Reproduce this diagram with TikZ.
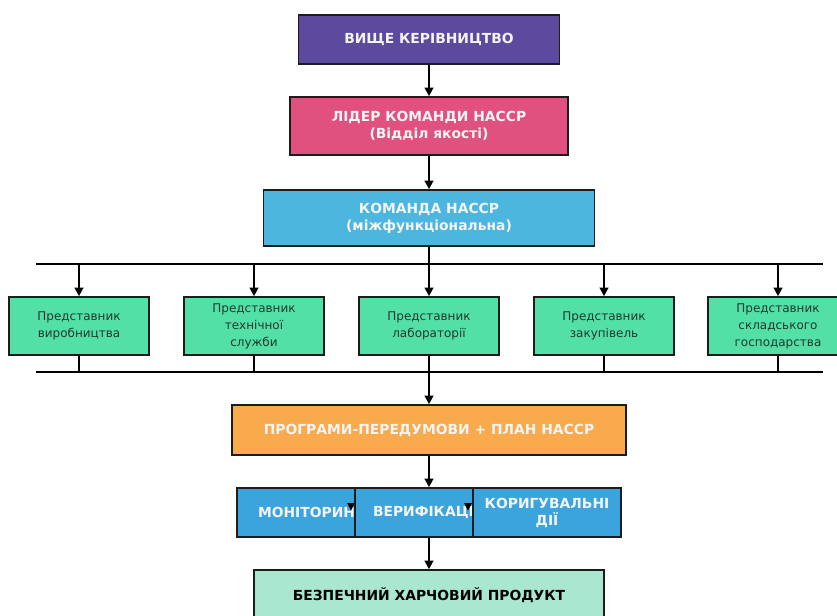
\documentclass[tikz,border=0pt]{standalone}
\usepackage{fontspec}
\setmainfont{DejaVu Sans}
\usetikzlibrary{arrows.meta}
\definecolor{cTop}{HTML}{5B4A9E}
\definecolor{cLead}{HTML}{E0517F}
\definecolor{cTeam}{HTML}{4DB6DF}
\definecolor{cGreen}{HTML}{52E0A6}
\definecolor{cProg}{HTML}{F8AA4C}
\definecolor{cRow}{HTML}{3BA4DD}
\definecolor{cFinal}{HTML}{A9E7D0}
\definecolor{cGText}{HTML}{22382E}
\definecolor{cWText}{HTML}{F4F4F4}
\definecolor{cEdge}{HTML}{1C1C1C}
\begin{document}
\begin{tikzpicture}[x=0.75pt,y=-0.75pt,
  box/.style={draw=cEdge,line width=1.2pt,rectangle,inner sep=0pt,align=center},
  head/.style={box,text=cWText,font=\fontsize{10.4}{12.8}\selectfont\bfseries},
  rep/.style={box,fill=cGreen,text=cGText,minimum width=105pt,minimum height=43.5pt,font=\fontsize{9}{12.8}\selectfont},
  conn/.style={line width=1.8pt,draw=black},
  arr/.style={conn,-{Triangle[length=6.5pt,width=6.5pt]}}]
\useasboundingbox (0,0) rectangle (837,615);

\node[head,fill=cTop,minimum width=195.75pt,minimum height=36.75pt] (top) at (429,39.5) {ВИЩЕ КЕРІВНИЦТВО};
\node[head,fill=cLead,minimum width=208.5pt,minimum height=43.5pt] (lead) at (429,126) {ЛІДЕР КОМАНДИ НАССР\\(Відділ якості)};
\node[head,fill=cTeam,minimum width=248.25pt,minimum height=42pt] (team) at (429,218) {КОМАНДА НАССР\\(міжфункціональна)};

\node[rep] (g1) at (79,326) {Представник\\виробництва};
\node[rep] (g2) at (254,326) {Представник\\технічної\\служби};
\node[rep] (g3) at (429,326) {Представник\\лабораторії};
\node[rep] (g4) at (604,326) {Представник\\закупівель};
\node[rep] (g5) at (778,326) {Представник\\складського\\господарства};

\coordinate (busTL) at (36,264);
\coordinate (busTR) at (823,264);
\coordinate (busBL) at (36,372);
\coordinate (busBR) at (823,372);

\node[head,fill=cProg,minimum width=295.5pt,minimum height=37.5pt] (prog) at (429,430) {ПРОГРАМИ-ПЕРЕДУМОВИ + ПЛАН НАССР};

\node[box,fill=cRow,minimum width=88.5pt,minimum height=36.75pt] (mon) at (296,512.5) {};
\node[head,draw=none,anchor=west] (montext) at ([xshift=15.75pt]mon.west) {МОНІТОРИНГ};
\fill[black] (347,503) -- (355,503) -- (351,510.5) -- cycle;
\node[box,fill=cRow,minimum width=88.5pt,minimum height=36.75pt] (ver) at (414,512.5) {};
\node[head,draw=none,anchor=west] (vertext) at ([xshift=13.5pt]ver.west) {ВЕРИФІКАЦІЯ};
\fill[black] (464,503) -- (472,503) -- (468,510.5) -- cycle;
\node[head,fill=cRow,minimum width=111pt,minimum height=36.75pt] (cor) at (547,512.5) {КОРИГУВАЛЬНІ\\ДІЇ};

\node[box,fill=cFinal,text=black,font=\fontsize{10.4}{12.8}\selectfont\bfseries,minimum width=262.5pt,minimum height=37.5pt] (final) at (429,595) {БЕЗПЕЧНИЙ ХАРЧОВИЙ ПРОДУКТ};

\draw[arr] (top.south) -- (lead.north);
\draw[arr] (lead.south) -- (team.north);
\draw[conn] (busTL) -- (busTR);
\draw[conn] (team.south) -- (team.south |- busTL);
\foreach \g in {g1,g2,g3,g4,g5}{
  \draw[arr] (\g.north |- busTL) -- (\g.north);
  \draw[conn] (\g.south) -- (\g.south |- busBL);
}
\draw[conn] (busBL) -- (busBR);
\draw[arr] (prog.north |- busBL) -- (prog.north);
\coordinate (rowTop) at (prog.south |- ver.north);
\coordinate (rowBot) at (prog.south |- ver.south);
\draw[arr] (prog.south) -- (rowTop);
\draw[arr] (rowBot) -- (final.north -| rowBot);
\end{tikzpicture}
\end{document}
